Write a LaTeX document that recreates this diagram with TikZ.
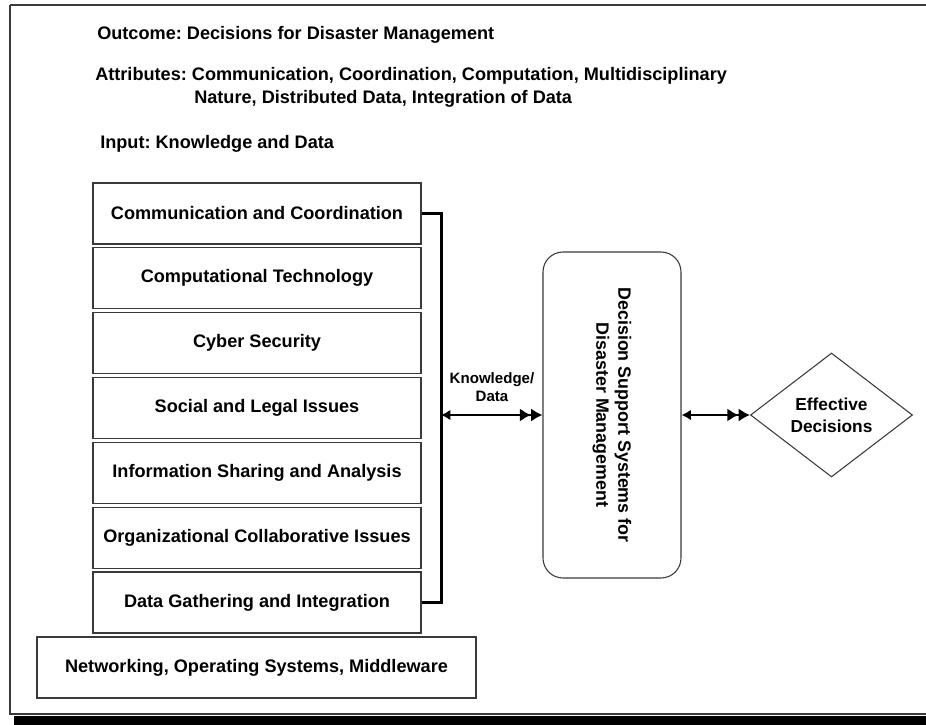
\documentclass[tikz,border=0pt]{standalone}
\usepackage{fontspec}
\setmainfont{Liberation Sans}
\usetikzlibrary{arrows.meta,shapes.geometric}
\definecolor{edgegray}{HTML}{3A3A3A}
\frenchspacing
\begin{document}
\begin{tikzpicture}[x=0.75pt,y=-0.75pt,
  txt/.style={font=\fontsize{13.6}{16}\selectfont\bfseries, inner sep=0pt},
  layer/.style={draw=edgegray, line width=0.8pt, minimum width=246pt, minimum height=45.75pt, inner sep=0pt,
    font=\fontsize{13.6}{16}\selectfont\bfseries},
  base/.style={layer, minimum width=329.25pt},
  dssbox/.style={draw=edgegray, line width=0.8pt, rounded corners=15pt, minimum width=103.5pt, minimum height=244.5pt, inner sep=0pt},
  decbox/.style={diamond, draw=edgegray, line width=0.8pt, minimum width=121.5pt, minimum height=93pt, inner sep=0pt},
  bracket/.style={line width=2.25pt, line join=miter},
  twoway/.style={line width=2pt, {Latex[length=7pt,width=8pt]}-{Latex[length=8.5pt,width=10pt]Latex[length=8.5pt,width=10pt]}},
  lbl/.style={font=\fontsize{11.3}{13.5}\selectfont\bfseries, align=center, inner sep=0pt}
]
\useasboundingbox (0,0) rectangle (926,725);
% frame and shadow
\fill[black] (14,715.5) rectangle (926,725);
\draw[edgegray, line width=1.5pt] (10,4.5) -- (926,4.5);
\draw[edgegray, line width=0.9pt] (10,4.5) -- (10,714) -- (926,714);
% header texts
\node[txt, anchor=base west] (outc) at (97,39.5) {Outcome: Decisions for Disaster Management};
\node[txt, anchor=base west] (attr1) at (95,80.5) {Attributes: Communication, Coordination, Computation, Multidisciplinary};
\node[txt, anchor=base west] (attr2) at (194,103.5) {Nature, Distributed Data, Integration of Data};
\node[txt, anchor=base west] (inp) at (100,148.5) {Input: Knowledge and Data};
% layers
\node[layer] (b1) at (257,213.5) {Communication and Coordination};
\node[layer] (b2) at (257,278.3) {Computational Technology};
\node[layer] (b3) at (257,343.2) {Cyber Security};
\node[layer] (b4) at (257,408) {Social and Legal Issues};
\node[layer] (b5) at (257,472.8) {Information Sharing and Analysis};
\node[layer] (b6) at (257,537.6) {Organizational Collaborative Issues};
\node[layer] (b7) at (257,602.5) {Data Gathering and Integration};
\node[base] (net) at (256.5,667.5) {Networking, Operating Systems, Middleware};
% DSS and decision
\node[dssbox] (dss) at (612,415) {};
\node[font=\fontsize{13.4}{16.5}\selectfont\bfseries, align=center, rotate=-90, inner sep=0pt] (dsstxt) at (dss.center) {Decision Support Systems for\\Disaster Management};
\node[decbox] (dec) at (831.5,415) {};
\node[font=\fontsize{13}{16.5}\selectfont\bfseries, align=center, inner sep=0pt] (dectxt) at (dec.center) {Effective\\Decisions};
% bracket
\coordinate (bx) at (441,415);
\draw[bracket] (b1.east) -- (b1.east -| bx) -- (b7.east -| bx) -- (b7.east);
% arrows
\draw[twoway] (bx) -- (dss.west);
\node[lbl] (kd) at (492,387) {Knowledge/\\Data};
\draw[twoway] (dss.east) -- (dec.west);
\end{tikzpicture}
\end{document}
